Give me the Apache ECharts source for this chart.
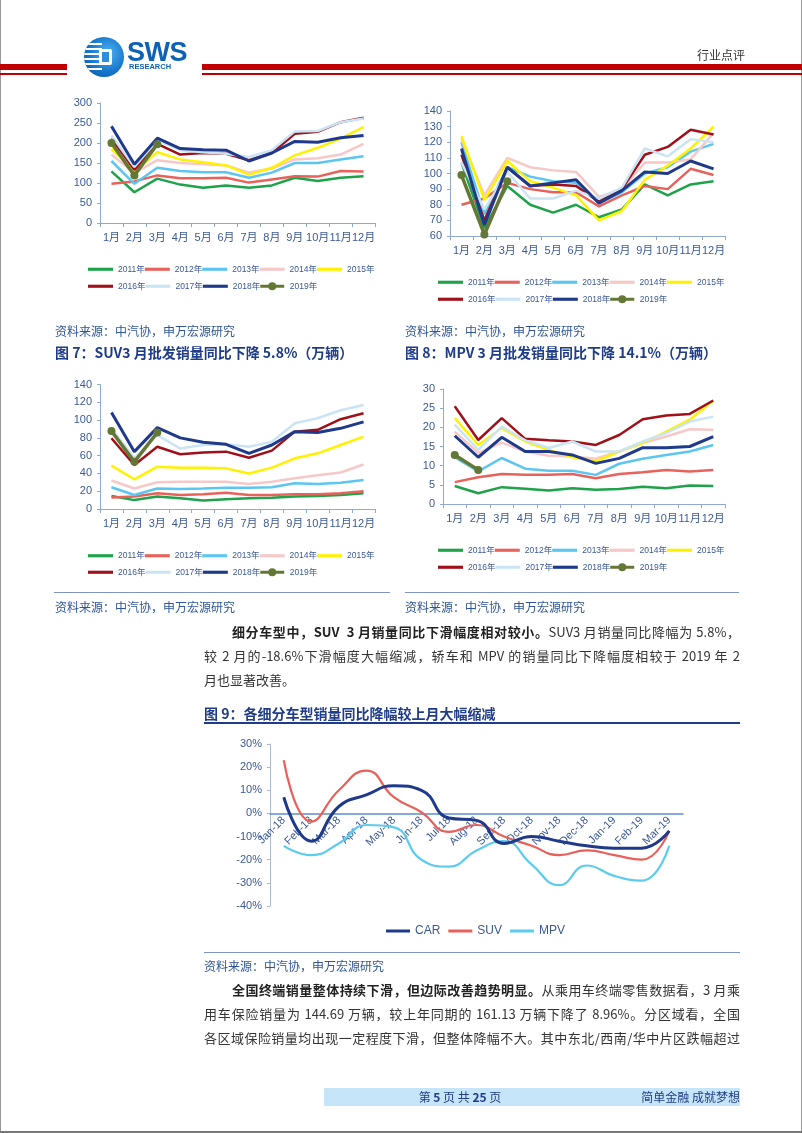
<!DOCTYPE html>
<html><head><meta charset="utf-8">
<script src="https://cdn.jsdelivr.net/npm/echarts@6.0.0/dist/echarts.min.js"></script>
<style>
html,body{margin:0;padding:0;background:#fff;}
#page{position:relative;width:802px;height:1133px;overflow:hidden;background:#fff;font-family:"Noto Sans CJK SC","Liberation Sans",sans-serif;}
#chart{position:absolute;left:0;top:0;width:802px;height:1133px;}
.a{position:absolute;}
.t{position:absolute;white-space:nowrap;line-height:20px;}
.src{font-size:12px;color:#2F5597;}
.cap{font-size:14px;font-weight:bold;color:#1F3C88;}
.jl{position:absolute;font-size:13px;line-height:24px;color:#333;text-align:justify;text-align-last:justify;}
.jl b{color:#222;}
</style></head>
<body><div id="page">
<div id="chart"></div>

<!-- header -->
<div class="a" style="left:0;top:0;width:1px;height:1133px;background:#999"></div>
<div class="a" style="left:801px;top:0;width:1px;height:1133px;background:#999"></div>
<div class="a" style="left:0;top:1131px;width:802px;height:2px;background:#777"></div>
<div class="a" style="left:0;top:64px;width:67px;height:6px;background:#C00000"></div>
<div class="a" style="left:0;top:73px;width:67px;height:2px;background:#C00000"></div>
<div class="a" style="left:202px;top:64px;width:600px;height:6px;background:#C00000"></div>
<div class="a" style="left:202px;top:73px;width:600px;height:2px;background:#C00000"></div>
<div class="a" style="left:84px;top:37px;width:40px;height:40px;border-radius:50%;background:radial-gradient(circle at 60% 40%,#4FB3F0,#1677CC 55%,#0B4E9E);overflow:hidden">
  <div class="a" style="left:0;top:6px;width:18px;height:28px;background:repeating-linear-gradient(#fff 0 2px,transparent 2px 5px)"></div>
  <div class="a" style="left:15px;top:12px;width:13px;height:16px;background:#fff;border-radius:2px"></div>
  <div class="a" style="left:18px;top:15px;width:7px;height:10px;background:#2C8FDC"></div>
</div>
<div class="t" style="left:127px;top:38px;font:bold 27px/28px 'Liberation Sans',sans-serif;color:#0E62B6;letter-spacing:-0.5px">SWS</div>
<div class="t" style="left:129px;top:63px;font:bold 7.5px/8px 'Liberation Sans',sans-serif;color:#0E62B6">RESEARCH</div>
<div class="t" style="left:697px;top:45px;font-size:12px;color:#333">行业点评</div>

<!-- captions -->
<div class="t src" style="left:55px;top:321px">资料来源：中汽协，申万宏源研究</div>
<div class="t src" style="left:405px;top:321px">资料来源：中汽协，申万宏源研究</div>
<div class="t cap" style="left:55px;top:342px">图 7：SUV3 月批发销量同比下降 5.8%（万辆）</div>
<div class="t cap" style="left:405px;top:342px">图 8：MPV 3 月批发销量同比下降 14.1%（万辆）</div>

<div class="a" style="left:54px;top:592px;width:336px;height:1px;background:#7F93C6"></div>
<div class="a" style="left:405px;top:592px;width:334px;height:1px;background:#7F93C6"></div>
<div class="t src" style="left:55px;top:597px">资料来源：中汽协，申万宏源研究</div>
<div class="t src" style="left:405px;top:597px">资料来源：中汽协，申万宏源研究</div>

<div class="jl" style="left:232px;top:620px;width:508px"><b>细分车型中，SUV&nbsp; 3 月销量同比下滑幅度相对较小。</b>SUV3 月销量同比降幅为 5.8%，</div>
<div class="jl" style="left:204px;top:644px;width:536px">较 2 月的-18.6%下滑幅度大幅缩减，轿车和 MPV 的销量同比下降幅度相较于 2019 年 2</div>
<div class="jl" style="left:204px;top:668px;width:536px;text-align-last:left">月也显著改善。</div>

<div class="t cap" style="left:204px;top:703px">图 9：各细分车型销量同比降幅较上月大幅缩减</div>
<div class="a" style="left:204px;top:722px;width:536px;height:2px;background:#1F3C88"></div>

<div class="a" style="left:204px;top:952px;width:536px;height:1px;background:#7F93C6"></div>
<div class="t src" style="left:204px;top:956px">资料来源：中汽协，申万宏源研究</div>

<div class="jl" style="left:232px;top:978px;width:508px"><b>全国终端销量整体持续下滑，但边际改善趋势明显。</b>从乘用车终端零售数据看，3 月乘</div>
<div class="jl" style="left:204px;top:1002px;width:536px">用车保险销量为 144.69 万辆，较上年同期的 161.13 万辆下降了 8.96%。分区域看，全国</div>
<div class="jl" style="left:204px;top:1026px;width:536px">各区域保险销量均出现一定程度下滑，但整体降幅不大。其中东北/西南/华中片区跌幅超过</div>

<!-- footer -->
<div class="a" style="left:324px;top:1088px;width:416px;height:18px;background:#C7E5F8"></div>
<div class="t" style="left:324px;top:1087px;width:272px;text-align:center;font-size:12px;color:#1F3C88">第 <b>5</b> 页 共 <b>25</b> 页</div>
<div class="t" style="left:600px;top:1087px;width:140px;text-align:right;font-size:12px;color:#1F3C88">简单金融 成就梦想</div>
</div>

<script>
// ---------------- data ----------------
const MONTHS = ['1月','2月','3月','4月','5月','6月','7月','8月','9月','10月','11月','12月'];
const YEARS = ['2011年','2012年','2013年','2014年','2015年','2016年','2017年','2018年','2019年'];

// chart 1: passenger vehicles (万辆)
const PASSENGER = [
  [129,77,111,96,88,94,88,94,113,105,113,117],
  [98,104,119,112,112,113,101,109,117,116,130,129],
  [155,98,138,130,127,127,113,126,150,150,159,167],
  [171,125,157,150,147,144,126,136,159,162,171,198],
  [185,130,177,159,152,144,121,138,169,188,211,240],
  [211,133,198,171,175,173,157,175,223,228,252,263],
  [219,140,207,182,177,173,165,182,229,230,252,261],
  [242,147,212,186,183,182,155,175,204,202,213,219],
  [200,119,197]
];
// chart 2: sedans (万辆)
const SEDAN = [
  [107,65,92,80,75,80,72,77,93,86,93,95],
  [80,84,94,90,88,88,79,86,92,90,103,99],
  [120,74,104,98,95,94,81,88,100,104,114,119],
  [122,86,110,104,102,101,85,90,107,107,109,126],
  [124,83,108,95,91,86,70,76,96,105,116,130],
  [112,70,104,92,93,92,82,90,112,117,128,125],
  [107,77,101,84,84,89,84,91,116,111,122,120],
  [116,67,104,92,94,96,81,89,101,100,108,103],
  [99,61,95]
];
// chart 3: SUV (万辆)
const SUV_SALES = [
  [14.6,10,14,12,9.5,11,12,12.7,14,14.6,15.7,17.6],
  [13,14,17.6,15.7,16.5,18.4,15.7,15.7,16.5,16.5,17.6,20],
  [24.4,15.7,23,22.5,23,24,24,24.4,29,28,29.6,32.6],
  [32,23,30,30.7,30.7,30.7,28,30.7,34.5,38,41,50],
  [48.7,33.4,47.6,46.5,46.5,45.7,40,46.5,57,62.6,72,81.4],
  [79.5,49.5,70,61.5,63.4,64.5,57.7,65.6,87,89,101,107.6],
  [90.7,57,83,68,72,72.7,70,75.7,96.4,102,111,117],
  [108.4,64.5,91.5,80,75,72.7,62.6,72,87,86,90.7,98],
  [87.7,53,86]
];
// chart 4: MPV (万辆)
const MPV_SALES = [
  [4.7,2.8,4.4,4,3.5,4.1,3.7,3.9,4.5,4.1,4.8,4.7],
  [5.7,7,7.8,7.6,7.6,7.8,6.7,7.8,8.3,8.9,8.5,8.9],
  [12.2,8.5,12,9.2,8.7,8.7,7.6,10.5,11.8,12.8,13.7,15.4],
  [18.9,13.3,16,13.7,12.6,12.4,11.8,13.7,15.9,17.6,19.5,19.4],
  [22.4,15.4,19.8,16.3,14.1,12.2,11.1,13.7,15.9,18.9,22,27],
  [25.5,16.7,22.4,17,16.6,16.3,15.4,18,22.1,23.1,23.5,27],
  [20.7,14.1,20.2,16.6,14.6,16.3,13.7,13.7,16.3,18.5,21.5,22.8],
  [17.8,12.2,17.4,13.7,13.7,12.8,10.6,11.9,14.7,14.7,15,17.6],
  [12.8,8.9]
];
// chart 9: YoY growth (%)
const YOY_MONTHS = ['Jan-18','Feb-18','Mar-18','Apr-18','May-18','Jun-18','Jul-18','Aug-18','Sep-18','Oct-18','Nov-18','Dec-18','Jan-19','Feb-19','Mar-19'];
const YOY_CAR = [7,-12,3,8,12,10,-2,-3,-13,-10,-12,-14,-15,-15,-7.5];
const YOY_SUV = [23,-3.5,10,18.5,7,0.5,-8,-5,-10,-14,-18,-16,-18,-20,-7.5];
const YOY_MPV = [-14,-18,-13,-5,-6,-20,-23,-16,-12,-22,-31,-22.5,-27,-29,-14];

// ---------------- styles ----------------
const YEAR_COLORS = ['#1EA24A','#E8625C','#5CC6F0','#F6C8C8','#FFF200','#A0101A','#CBE4F4','#1F3A8A','#647836'];
const AX = '#8FA8D6', LB = '#3B5998';
const FONT = "'Liberation Sans','Noto Sans CJK SC',sans-serif";
const ICON_LINE = 'path://M0,0h24v3h-24z';
const ICON_DOT = 'path://M0,2.5h24v3h-24z M16,4A4,4 0 1 1 8,4A4,4 0 1 1 16,4z';

const grids = [], xAxes = [], yAxes = [], series = [], legends = [];

function yearChart(data, grid, yMin, yMax, yInt, legLeft, legY1, legY2) {
  const idx = grids.length;
  grids.push(Object.assign({containLabel:false}, grid));
  xAxes.push({type:'category', gridIndex:idx, data:MONTHS, boundaryGap:true,
    axisLine:{lineStyle:{color:AX,width:1}}, axisTick:{show:true,length:4,lineStyle:{color:AX}},
    axisLabel:{color:LB,fontSize:11,margin:9,interval:0,fontFamily:FONT}});
  yAxes.push({type:'value', gridIndex:idx, min:yMin, max:yMax, interval:yInt,
    splitLine:{show:false}, axisLine:{show:true,lineStyle:{color:AX,width:1}},
    axisTick:{show:true,length:3,lineStyle:{color:AX}},
    axisLabel:{color:LB,fontSize:11,margin:8,fontFamily:FONT}});
  data.forEach((vals,k)=>{
    const last = k===8;
    series.push({type:'line', name:YEARS[k], xAxisIndex:idx, yAxisIndex:idx, data:vals,
      symbol: last?'circle':'none', showSymbol:last, symbolSize:8, clip:false,
      lineStyle:{width: last?3.5:(k===7?3:2.5), color:YEAR_COLORS[k]},
      itemStyle:{color:YEAR_COLORS[k]}, z:2+k, animation:false});
  });
  const legBase = {orient:'horizontal', itemWidth:25, itemHeight:8, itemGap:0, symbolKeepAspect:true,
    textStyle:{color:LB,fontSize:8.5,fontFamily:FONT}, selectedMode:false};
  const item = n => ({name:n, icon: n==='2019年' ? ICON_DOT : ICON_LINE});
  legends.push(Object.assign({left:legLeft, top:legY1-5, data:YEARS.slice(0,5).map(item)}, legBase));
  legends.push(Object.assign({left:legLeft, top:legY2-5, data:YEARS.slice(5).map(item)}, legBase));
}

yearChart(PASSENGER, {left:100, top:103, width:275, height:120}, 0, 300, 50, 83, 265, 282);
yearChart(SEDAN, {left:450, top:111, width:275, height:125}, 60, 140, 10, 433, 278, 295);
yearChart(SUV_SALES, {left:100, top:384.5, width:275, height:124.5}, 0, 140, 20, 83, 551.5, 568);
yearChart(MPV_SALES, {left:443, top:389, width:282, height:115}, 0, 30, 5, 433, 546, 563);

// chart 9
const gi = grids.length;
const G9 = {left:270, top:744, width:413, height:162};
grids.push(Object.assign({containLabel:false}, G9));
const zeroOffset = -(G9.height * (0 - (-40)) / (30 - (-40)));
xAxes.push({type:'category', gridIndex:gi, data:YOY_MONTHS, boundaryGap:true, position:'bottom', offset:zeroOffset,
  axisLine:{onZero:false, lineStyle:{color:'#5B8FD0',width:1.5}}, axisTick:{show:false},
  axisLabel:{color:LB,fontSize:11,rotate:45,margin:5,interval:0,fontFamily:FONT}});
yAxes.push({type:'value', gridIndex:gi, min:-40, max:30, interval:10,
  splitLine:{show:false}, axisLine:{show:true,lineStyle:{color:'#A9B8D8',width:1}},
  axisTick:{show:true,length:3,lineStyle:{color:'#A9B8D8'}},
  axisLabel:{color:LB,fontSize:11,margin:8,formatter:'{value}%',fontFamily:FONT}});
[['MPV',YOY_MPV,'#5CCBF0',2.2],['SUV',YOY_SUV,'#E8605A',2.2],['CAR',YOY_CAR,'#1F3A8A',3]].forEach(([n,d,c,w],k)=>{
  series.push({type:'line', name:n, xAxisIndex:gi, yAxisIndex:gi, data:d, smooth:true,
    symbol:'none', showSymbol:false, lineStyle:{width:w,color:c}, itemStyle:{color:c}, z:20+k, animation:false});
});
legends.push({left:381, top:920, itemWidth:24, itemHeight:10, itemGap:8, symbolKeepAspect:true,
  data:['CAR','SUV','MPV'].map(n=>({name:n, icon:ICON_LINE})),
  textStyle:{color:LB,fontSize:12,fontFamily:FONT}, selectedMode:false});

const chart = echarts.init(document.getElementById('chart'), null, {renderer:'canvas'});
chart.setOption({animation:false, textStyle:{fontFamily:FONT},
  grid:grids, xAxis:xAxes, yAxis:yAxes, series:series, legend:legends});
</script>
</body></html>
